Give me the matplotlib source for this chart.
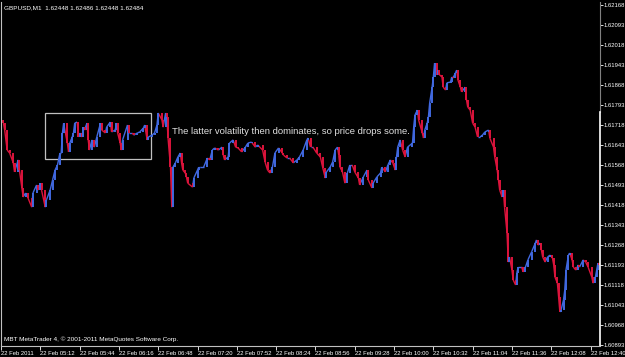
import matplotlib
matplotlib.use("Agg")
import matplotlib.pyplot as plt
from matplotlib.collections import LineCollection
import numpy as np

# minutes after 04:40 on 22 Feb 2011 (M1 bars)
bar_minutes = [
    2, 3, 5, 7, 10, 11, 14, 15, 17, 18, 20, 22, 25, 26, 29, 30, 32, 33, 36, 37,
    40, 42, 44, 46, 48, 49, 50, 51, 54, 55, 56, 58, 59, 60, 62, 63, 64, 66, 67, 68,
    70, 71, 72, 74, 76, 78, 81, 82, 85, 86, 89, 90, 93, 94, 95, 97, 98, 99, 103, 104,
    107, 108, 111, 113, 116, 117, 119, 120, 123, 125, 127, 128, 131, 132, 134, 135, 136, 138, 139, 140,
    142, 144, 146, 147, 148, 150, 151, 152, 156, 157, 160, 161, 162, 165, 168, 170, 172, 174, 177, 180,
    181, 182, 185, 186, 189, 191, 193, 196, 199, 201, 204, 207, 209, 213, 215, 217, 219, 221, 223, 226,
    229, 230, 233, 235, 238, 241, 243, 246, 249, 250, 252, 254, 257, 260, 262, 264, 265, 268, 270, 272,
    274, 275, 276, 278, 280, 282, 284, 286, 288, 291, 292, 295, 298, 299, 302, 303, 306, 309, 310, 313,
    315, 317, 319, 321, 322, 323, 325, 327, 329, 331, 335, 336, 337, 339, 340, 343, 344, 345, 347, 348,
    349, 351, 352, 353, 355, 356, 357, 359, 360, 362, 363, 366, 367, 368, 370, 371, 372, 374, 375, 378,
    379, 380, 382, 384, 386, 388, 390, 392, 394, 397, 398, 401, 402, 404, 405, 406, 408, 409, 410, 412,
    413, 414, 416, 417, 419, 420, 421, 424, 425, 427, 429, 432, 435, 436, 437, 439, 440, 441, 443, 445,
    447, 449, 450, 451, 453, 454, 455, 456, 458, 459, 460, 462, 463, 465, 466, 468, 470, 471, 474, 476,
    478, 481, 482, 484, 485, 486, 487,
]

close_prices = [
    1.61725, 1.61699, 1.61624, 1.61613, 1.61576, 1.61542, 1.61587, 1.61549, 1.61482, 1.61448,
    1.61463, 1.61444, 1.61410, 1.61463, 1.61493, 1.61474, 1.61500, 1.61474, 1.61410, 1.61437,
    1.61474, 1.61512, 1.61549, 1.61568, 1.61613, 1.61613, 1.61688, 1.61725, 1.61650, 1.61617,
    1.61650, 1.61673, 1.61688, 1.61725, 1.61729, 1.61673, 1.61688, 1.61673, 1.61710, 1.61699,
    1.61725, 1.61662, 1.61624, 1.61662, 1.61635, 1.61673, 1.61725, 1.61699, 1.61688, 1.61710,
    1.61729, 1.61692, 1.61699, 1.61725, 1.61688, 1.61650, 1.61624, 1.61662, 1.61718, 1.61688,
    1.61688, 1.61680, 1.61688, 1.61692, 1.61707, 1.61718, 1.61662, 1.61673, 1.61680, 1.61688,
    1.61718, 1.61763, 1.61737, 1.61710, 1.61763, 1.61748, 1.61669, 1.61560, 1.61410, 1.61560,
    1.61576, 1.61598, 1.61613, 1.61576, 1.61549, 1.61538, 1.61523, 1.61500, 1.61485, 1.61519,
    1.61549, 1.61560, 1.61560, 1.61560, 1.61594, 1.61587, 1.61624, 1.61632, 1.61624, 1.61635,
    1.61605, 1.61587, 1.61598, 1.61650, 1.61662, 1.61635, 1.61632, 1.61617, 1.61635, 1.61650,
    1.61654, 1.61635, 1.61643, 1.61624, 1.61579, 1.61549, 1.61538, 1.61560, 1.61613, 1.61632,
    1.61613, 1.61605, 1.61594, 1.61594, 1.61576, 1.61587, 1.61598, 1.61624, 1.61662, 1.61669,
    1.61635, 1.61635, 1.61613, 1.61598, 1.61557, 1.61519, 1.61542, 1.61560, 1.61579, 1.61624,
    1.61635, 1.61605, 1.61560, 1.61542, 1.61500, 1.61538, 1.61568, 1.61568, 1.61542, 1.61519,
    1.61493, 1.61523, 1.61549, 1.61512, 1.61482, 1.61500, 1.61523, 1.61538, 1.61560, 1.61542,
    1.61568, 1.61587, 1.61576, 1.61549, 1.61598, 1.61635, 1.61662, 1.61624, 1.61598, 1.61635,
    1.61650, 1.61710, 1.61755, 1.61774, 1.61737, 1.61688, 1.61669, 1.61699, 1.61725, 1.61748,
    1.61800, 1.61860, 1.61898, 1.61950, 1.61906, 1.61924, 1.61906, 1.61898, 1.61860, 1.61849,
    1.61876, 1.61879, 1.61898, 1.61894, 1.61913, 1.61924, 1.61887, 1.61860, 1.61842, 1.61860,
    1.61812, 1.61785, 1.61774, 1.61725, 1.61710, 1.61673, 1.61673, 1.61680, 1.61692, 1.61699,
    1.61669, 1.61635, 1.61598, 1.61549, 1.61512, 1.61474, 1.61448, 1.61474, 1.61410, 1.61313,
    1.61204, 1.61223, 1.61174, 1.61137, 1.61118, 1.61163, 1.61185, 1.61185, 1.61167, 1.61185,
    1.61212, 1.61242, 1.61275, 1.61287, 1.61268, 1.61275, 1.61249, 1.61223, 1.61204, 1.61223,
    1.61230, 1.61219, 1.61193, 1.61148, 1.61125, 1.61073, 1.61017, 1.61024, 1.61062, 1.61099,
    1.61174, 1.61230, 1.61238, 1.61212, 1.61185, 1.61174, 1.61193, 1.61185, 1.61212, 1.61204,
    1.61185, 1.61148, 1.61125, 1.61148, 1.61174, 1.61200, 1.61193,
]
first_open = 1.61737

price_ticks = [1.62168, 1.62093, 1.62018, 1.61943, 1.61868, 1.61793, 1.61718, 1.61643, 1.61568,
               1.61493, 1.61418, 1.61343, 1.61268, 1.61193, 1.61118, 1.61043, 1.60968, 1.60893]
time_tick_minutes = [0, 32, 64, 96, 128, 160, 192, 224, 256, 288, 320, 352, 384, 416, 448, 480]
time_tick_labels = ["22 Feb 2011", "22 Feb 05:12", "22 Feb 05:44", "22 Feb 06:16", "22 Feb 06:48",
                    "22 Feb 07:20", "22 Feb 07:52", "22 Feb 08:24", "22 Feb 08:56", "22 Feb 09:28",
                    "22 Feb 10:00", "22 Feb 10:32", "22 Feb 11:04", "22 Feb 11:36", "22 Feb 12:08",
                    "22 Feb 12:40"]

header = "GBPUSD,M1  1.62448 1.62486 1.62448 1.62484"
footer = "MBT MetaTrader 4, \u00a9 2001-2011 MetaQuotes Software Corp."
note = "The latter volatility then dominates, so price drops some."
box_minutes = (36, 122)
box_prices = (1.61591, 1.61763)
note_minute, note_price = 139, 1.61692

BLUE = "#4169e1"
RED = "#dc143c"
GREY = "#c0c0c0"
small_font = ["Liberation Sans", "DejaVu Sans"]

fig = plt.figure(figsize=(6.25, 3.57), dpi=100, facecolor="black")
ax = fig.add_axes([1 / 625, 11 / 357, 599 / 625, 344 / 357], facecolor="black")

closes = np.array(close_prices)
times = np.array(bar_minutes)
opens = np.concatenate([[first_open], closes[:-1]])
colors = [BLUE if c >= o else RED for o, c in zip(opens, closes)]

# thin joins between consecutive bars, then the bars themselves
segs = [[(times[i - 1], closes[i - 1]), (times[i], closes[i])] for i in range(1, len(times))]
ax.add_collection(LineCollection(segs, colors=colors[1:], linewidths=1.0))
ax.vlines(times, np.minimum(opens, closes), np.maximum(opens, closes),
          colors=colors, linewidth=1.4)

ax.set_xlim(0, 487.7)
ax.set_ylim(1.608892, 1.621792)

# frame like the MT4 window
for side in ["top", "right"]:
    ax.spines[side].set_visible(False)
ax.spines["left"].set_color(GREY)
ax.spines["bottom"].set_color(GREY)
ax.spines["left"].set_linewidth(0.8)
ax.spines["bottom"].set_linewidth(0.8)
ax.plot([1, 1], [0.68, 1], transform=ax.transAxes, color="#808080", lw=0.8, clip_on=False)
ax.plot([1, 1], [0, 0.68], transform=ax.transAxes, color="white", lw=1.2, clip_on=False)

ax.yaxis.tick_right()
ax.set_yticks(price_ticks)
ax.set_yticklabels([f"{p:.5f}" for p in price_ticks])
ax.tick_params(axis="y", colors="white", length=2, width=0.6, pad=0.8, labelsize=4.2)
for lbl in ax.get_yticklabels():
    lbl.set_family(small_font)

ax.set_xticks(time_tick_minutes)
ax.set_xticklabels(time_tick_labels)
ax.tick_params(axis="x", colors="white", length=3, width=0.6, pad=0.5, labelsize=4.2)
for lbl in ax.get_xticklabels():
    lbl.set_family(small_font)
    lbl.set_horizontalalignment("left")

ax.add_patch(plt.Rectangle((box_minutes[0], box_prices[0]), box_minutes[1] - box_minutes[0],
                           box_prices[1] - box_prices[0], fill=False, edgecolor=GREY, lw=0.9))
ax.text(note_minute, note_price, note, color="#e0e0e0", fontsize=6.8, va="center", ha="left",
        family=small_font)

ax.text(0.005, 0.99, header, transform=ax.transAxes, color="white", fontsize=4.6,
        va="top", ha="left", family=small_font)
ax.text(0.005, 0.012, footer, transform=ax.transAxes, color="white", fontsize=4.6,
        va="bottom", ha="left", family=small_font)

fig.savefig("out.png", dpi=100, facecolor="black")
